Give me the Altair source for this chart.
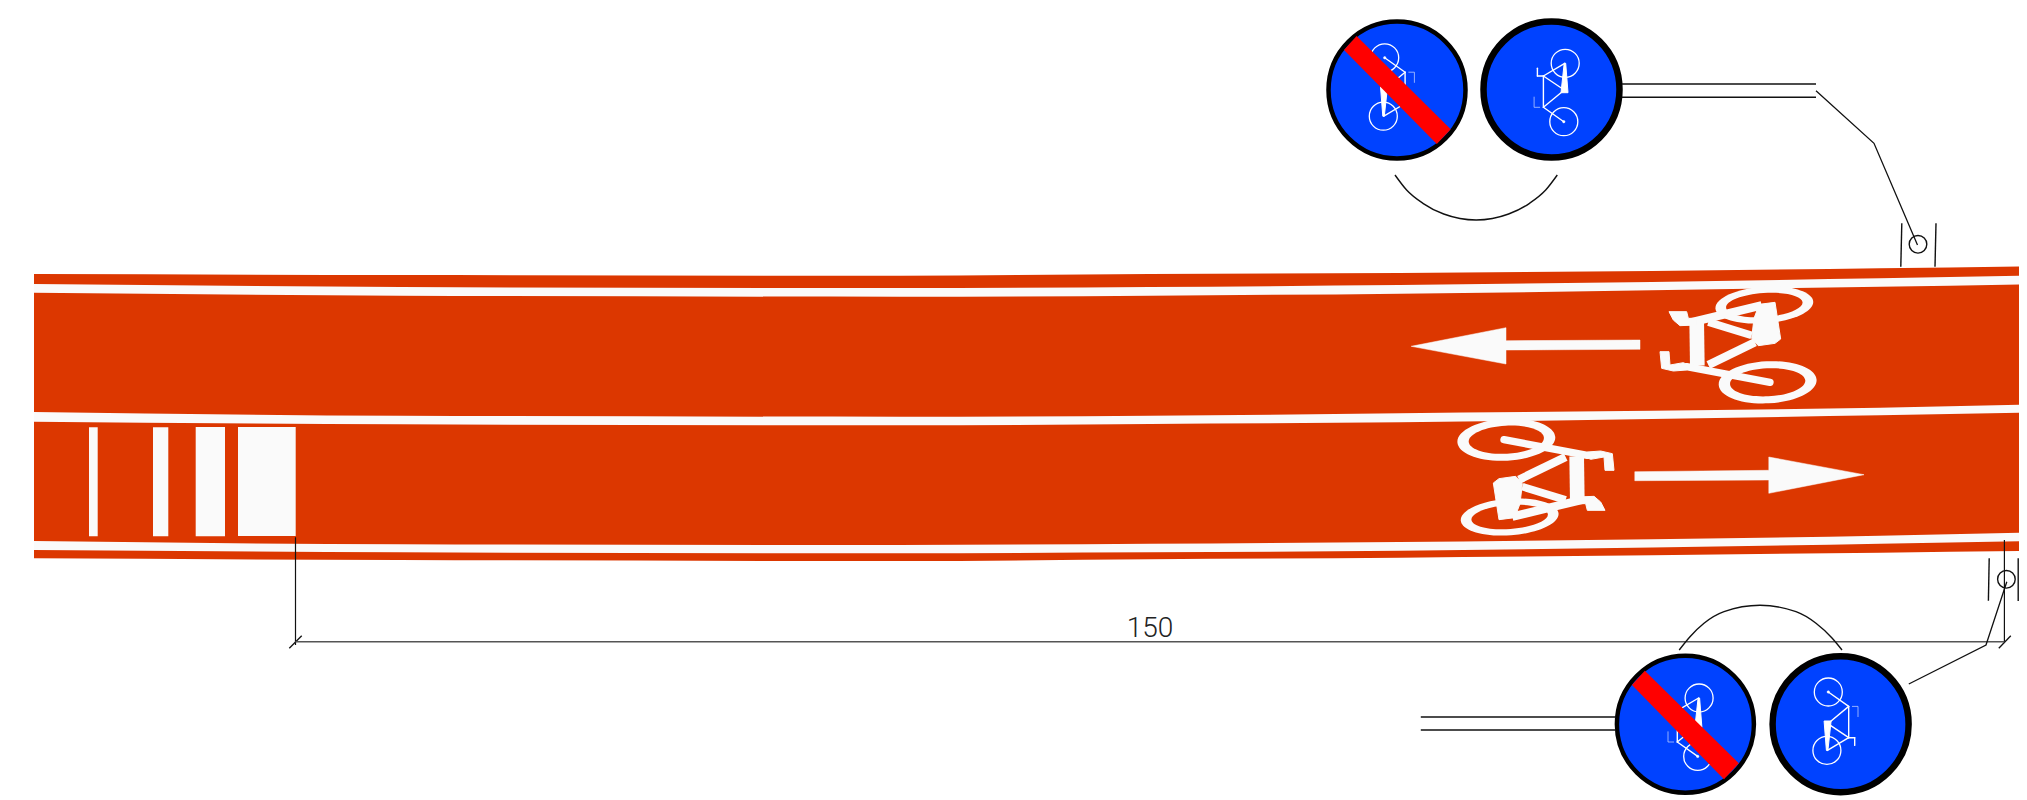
import math
import altair as alt
import pandas as pd

ROAD = "#dc3700"
PAINT = "#fafafa"
BLUE = "#0042ff"
INK = "#111111"

# ---- road profile, read at these picture columns
road_x = [34, 400, 900, 1150, 1400, 1880, 2027]
edge_top = [274, 275, 275.7, 274, 273, 268.3, 266.3]
edge_bot = [558.3, 560, 561, 559.3, 557.7, 552.7, 551]
l1_top = [284, 287, 288, 287, 285, 278.3, 275.7]
l1_bot = [292.7, 295.7, 296.7, 295.7, 293.7, 286.7, 284.3]
l2_top = [412, 415.7, 416.7, 415.7, 413.3, 407.7, 404.7]
l2_bot = [421.7, 424.3, 425.3, 424, 422.3, 415.3, 412.7]
l3_top = [541, 544.3, 545, 543.7, 542, 535.7, 532.7]
l3_bot = [550, 552.3, 553.3, 552.3, 550.7, 543.7, 541]

# ---- block marking at the left
blocks_x1 = [89, 153, 195.7, 238]
blocks_x2 = [97.7, 168.3, 225, 295.7]
blocks_y1 = [427.3, 427.3, 427, 427]
blocks_y2 = [536.3, 536.3, 536.3, 536]

# ---- arrows
arrow_up = [(1411.2, 346.3), (1506, 327.7), (1506, 340.7), (1640, 340), (1640, 349.3), (1506, 350), (1506, 364)]
arrow_dn = [(1864, 474.7), (1768.8, 457), (1768.8, 470.3), (1634.8, 471.7), (1634.8, 480.7), (1768.8, 480), (1768.8, 493.3)]

# ---- road bicycle, crop coordinates (3x, origin 1650,275)
bike_polys = [
    [(328, 88), (375, 82), (392, 192), (375, 205), (325, 212), (305, 190), (312, 130)],
    [(57, 110), (110, 110), (115, 130), (140, 130), (140, 150), (90, 152), (70, 135)],
    [(30, 230), (57, 230), (60, 270), (100, 263), (115, 270), (110, 285), (70, 288), (35, 280)],
]
bike_tubes = [
    (120, 143, 335, 91, 25), (175, 141, 305, 181, 23), (140, 135, 142, 272, 44), (175, 270, 315, 202, 25),
]
bike_strut = (110, 275, 360, 322, 22)
# wheel: cx, cy, outer a, outer b, hole a, hole b, tilt
bike_wheels = [
    (343, 90, 147, 55, 115, 36, 356),
    (353, 322, 147, 63, 113, 42, 357),
]

def bk(x, y):
    return 1650 + x / 3, 275 + y / 3

def rot(x, y):
    return 3274 - x, 822 - y

# ---- signs
sign_cx = [1397, 1551.5, 1685.4, 1840.6]
sign_cy = [90, 89.5, 724.2, 724.2]
sign_r = [68.5, 68, 68.5, 68]
sign_bw = [4.5, 6.5, 4.5, 6.5]
sign_flip = [-1, 1, 1, -1]
red_bars = [
    [(1356.6, 36), (1344, 50), (1436.8, 144), (1450.7, 129.3)],
    [(1644.8, 670.7), (1632, 685), (1724, 779.3), (1738.8, 763.3)],
]
# small bicycle, relative to sign centre
mini_wheels = [(13.7, -26.2), (12.3, 32.2)]
mini_hub = (12.3, 32.2)
mini_r = 14
mini_seat = [(12.7, -26.2), (14.2, -26.2), (16.5, 3.2), (9.5, 3.2)]
mini_lines = [
    (13.2, -26.2, -8.1, -13.5), (-8.1, -13.5, 12.8, 0.5), (-8.1, -13.5, -8.1, 17.8),
    (-8.1, 17.8, 12.8, 0.5), (-8.1, 17.8, 12.3, 32.2), (-14.1, -21.2, -14.1, -13.5), (-14.1, -13.5, -8.1, -13.5),
]
mini_thin = [(-17.4, 7.2, -17.4, 17.8), (-17.4, 17.8, -11.4, 17.8)]

# ---- drawing lines
plain_lines = [
    (1622, 84, 1816, 84, 1.6), (1622, 97.3, 1816, 97.3, 1.6),
    (1420.8, 717, 1616, 717, 1.6), (1420.8, 730, 1616, 730, 1.6),
    (1901.8, 223.3, 1900.8, 266.7, 1.4), (1936, 223.3, 1935, 266.7, 1.4),
    (1989.2, 558.3, 1988.4, 600.7, 1.4), (2018.2, 558.3, 2018.2, 601, 1.4),
    (295.5, 537.3, 295.5, 645, 1.2), (2004.4, 540, 2004.4, 643, 1.2),
    (289.3, 648.3, 301.7, 635.7, 1.3), (1998.8, 648.3, 2010.8, 635.7, 1.3),
]
dim_line = (295.5, 641.7, 2004.4, 641.7)
leader_top = [(1816, 90.7), (1874, 143.3), (1917.5, 245)]
leader_bot = [(1908.8, 684), (1986, 645), (2006.8, 581.7)]
post_cx = [1918, 2006.4]
post_cy = [244.3, 579.3]
post_r = [8.8, 8.8]
arc_top = [(1395, 175), (1406.6, 190), (1422.9, 203.3), (1443.7, 214), (1476.2, 220), (1508.6, 214), (1529.5, 203.3), (1545.7, 190), (1557.3, 175)]
arc_bot = [(1679.2, 650), (1690, 636.7), (1704, 623.3), (1724, 611.7), (1760, 605.3), (1796, 611.7), (1816, 623.3), (1832, 638), (1842, 650)]
dim_label = "150"
dim_pos = (1150, 636.7)

X = alt.Scale(domain=[8, 2019], range=[0, 2011], nice=False, zero=False)
Y = alt.Scale(domain=[8, 796], range=[0, 788], nice=False, zero=False)
ax = lambda f="x": alt.X(f"{f}:Q", scale=X, axis=None)
ay = lambda f="y": alt.Y(f"{f}:Q", scale=Y, axis=None)

def band(t, b, color):
    df = pd.DataFrame({"x": road_x, "y": t, "y2": b})
    return alt.Chart(df).mark_area(color=color, opacity=1, clip=True, interpolate="monotone").encode(ax(), ay(), y2="y2:Q")

def poly(pts, color, sw=0.5):
    df = pd.DataFrame({"x": [p[0] for p in pts] + [pts[0][0]], "y": [p[1] for p in pts] + [pts[0][1]]})
    df["i"] = range(len(df))
    return alt.Chart(df).mark_line(fill=color, stroke=color, strokeWidth=sw, opacity=1).encode(ax(), ay(), order="i:Q")

def path(pts, color=INK, sw=1.3, interp="linear"):
    df = pd.DataFrame({"x": [p[0] for p in pts], "y": [p[1] for p in pts]})
    df["i"] = range(len(df))
    return alt.Chart(df).mark_line(stroke=color, strokeWidth=sw, interpolate=interp, opacity=1).encode(ax(), ay(), order="i:Q")

def segs(rows, color, cap="butt", op=1):
    df = pd.DataFrame(rows, columns=["x", "y", "x2", "y2", "w"])
    return alt.Chart(df).mark_rule(color=color, strokeCap=cap, opacity=op, clip=True).encode(
        ax(), ay(), x2="x2:Q", y2="y2:Q", size=alt.Size("w:Q", scale=None, legend=None))

def ellipses(rows, color):
    recs = []
    for cx, cy, a, b, tilt in rows:
        r = b / a
        recs.append({"x": cx, "y": cy, "s": (2 * a) ** 2, "a": tilt,
                     "p": f"M-1,0A1,{r:.4f},0,1,1,1,0A1,{r:.4f},0,1,1,-1,0Z"})
    return alt.Chart(pd.DataFrame(recs)).mark_point(filled=True, fill=color, opacity=1, strokeWidth=0).encode(
        ax(), ay(),
        size=alt.Size("s:Q", scale=None, legend=None),
        shape=alt.Shape("p:N", scale=None, legend=None),
        angle=alt.Angle("a:Q", scale=None))

def rings(xs, ys, rs, bws, fill, stroke):
    df = pd.DataFrame({"x": xs, "y": ys, "s": [4 * r * r for r in rs], "w": bws})
    out = []
    for _, row in df.iterrows():
        sub = pd.DataFrame([row])
        kw = {"filled": fill is not None, "opacity": 1, "stroke": stroke, "strokeWidth": float(row["w"])}
        if fill is not None:
            kw["fill"] = fill
        out.append(alt.Chart(sub).mark_point(shape="circle", **kw).encode(
            ax(), ay(), size=alt.Size("s:Q", scale=None, legend=None)))
    return out

layers = [band(edge_top, edge_bot, ROAD), band(l1_top, l1_bot, PAINT), band(l2_top, l2_bot, PAINT), band(l3_top, l3_bot, PAINT)]

layers.append(alt.Chart(pd.DataFrame({"x": blocks_x1, "x2": blocks_x2, "y": blocks_y1, "y2": blocks_y2}))
              .mark_rect(color=PAINT, opacity=1).encode(ax(), ay(), x2="x2:Q", y2="y2:Q"))
layers += [poly(arrow_up, PAINT), poly(arrow_dn, PAINT)]

# road bicycles
outer, holes = [], []
for cx, cy, a, b, ha, hb, t in bike_wheels:
    px, py = bk(cx, cy)
    outer.append((px, py, a / 3, b / 3, t))
    holes.append((px, py, ha / 3, hb / 3, t))
    qx, qy = rot(px, py)
    outer.append((qx, qy, a / 3, b / 3, t))
    holes.append((qx, qy, ha / 3, hb / 3, t))
layers += [ellipses(outer, PAINT), ellipses(holes, ROAD)]

tubes = []
for x1, y1, x2, y2, w in bike_tubes:
    a, b = bk(x1, y1)
    c, d = bk(x2, y2)
    tubes.append((a, b, c, d, w / 3))
    a2, b2 = rot(a, b)
    c2, d2 = rot(c, d)
    tubes.append((a2, b2, c2, d2, w / 3))
layers.append(segs(tubes, PAINT))
a, b = bk(*bike_strut[:2])
c, d = bk(*bike_strut[2:4])
w = bike_strut[4] / 3
layers.append(segs([(a, b, c, d, w), (*rot(a, b), *rot(c, d), w)], PAINT, cap="round"))
for pg in bike_polys:
    pts = [bk(*p) for p in pg]
    layers.append(poly(pts, PAINT, 1))
    layers.append(poly([rot(*p) for p in pts], PAINT, 1))

# signs
layers += rings(sign_cx, sign_cy, sign_r, sign_bw, BLUE, "#000000")
wx, wy, white, thin, hx, hy = [], [], [], [], [], []
for cx, cy, f in zip(sign_cx, sign_cy, sign_flip):
    for dx, dy in mini_wheels:
        wx.append(cx + f * dx)
        wy.append(cy + f * dy)
    hx.append(cx + f * mini_hub[0])
    hy.append(cy + f * mini_hub[1])
    for x1, y1, x2, y2 in mini_lines:
        white.append((cx + f * x1, cy + f * y1, cx + f * x2, cy + f * y2, 1.4))
    for x1, y1, x2, y2 in mini_thin:
        thin.append((cx + f * x1, cy + f * y1, cx + f * x2, cy + f * y2, 0.8))
    layers.append(poly([(cx + f * x, cy + f * y) for x, y in mini_seat], "#ffffff", 1))
layers += rings(wx, wy, [mini_r] * len(wx), [1.3] * len(wx), None, "#ffffff")
layers += rings(hx, hy, [1.2] * len(hx), [0.5] * len(hx), "#ffffff", "#ffffff")
layers.append(segs(white, "#ffffff", cap="round"))
layers.append(segs(thin, "#b8ccff"))
layers += [poly(b_, "#ff0000", 0) for b_ in red_bars]

# drawing lines
layers.append(segs(plain_lines, INK))
layers.append(segs([(*dim_line, 1.6)], "#555555"))
layers += [path(leader_top), path(leader_bot), path(arc_top, sw=1.4, interp="monotone"), path(arc_bot, sw=1.4, interp="monotone")]
layers += rings(post_cx, post_cy, post_r, [1.4, 1.4], None, INK)
layers.append(alt.Chart(pd.DataFrame({"x": [dim_pos[0]], "y": [dim_pos[1]], "t": [dim_label]}))
              .mark_text(font="Roboto", fontWeight=300, fontSize=28, align="center", baseline="alphabetic", color="#222222")
              .encode(ax(), ay(), text="t:N"))

chart = alt.layer(*layers).properties(width=2011, height=788, padding=0, background="#ffffff").configure_view(stroke=None)
chart.save("out.html", embed_options={"renderer": "svg", "actions": False})
